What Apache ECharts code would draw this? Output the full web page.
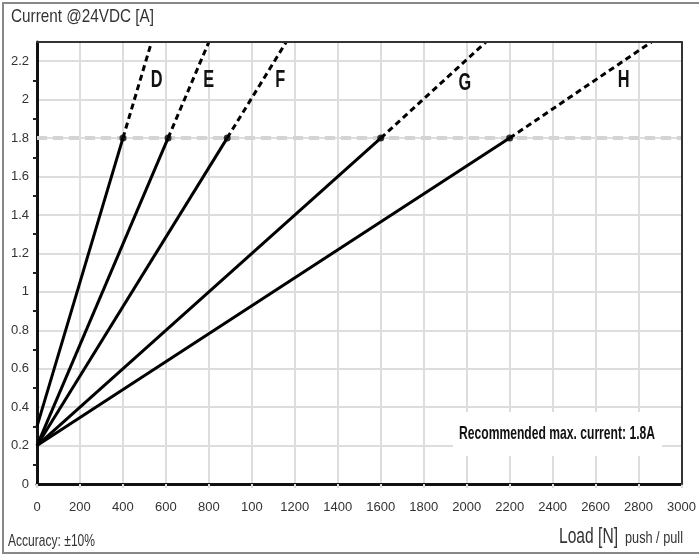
<!DOCTYPE html>
<html>
<head>
<meta charset="utf-8">
<script src="https://cdn.jsdelivr.net/npm/echarts@6/dist/echarts.min.js"></script>
<style>
html,body{margin:0;padding:0;background:#fff;}
#c{width:699px;height:555px;}
</style>
</head>
<body>
<div id="c"></div>
<script>
// ---- data ----
const curveNames = ['D', 'E', 'F', 'G', 'H'];
const startLoad = [0, 0, 0, 0, 0];
const startCurrent = [0.3, 0.2, 0.2, 0.2, 0.2];
const loadAtMax = [400, 610, 885, 1600, 2200];
const maxCurrent = 1.8;
const loadAtTop = [533, 800, 1160, 2090, 2860];
const topCurrent = 2.3;
const labelLoad = [557, 799, 1132, 1991, 2731];
const labelCurrent = [2.1, 2.1, 2.1, 2.085, 2.1];
const xTickLabels = ['0','200','400','600','800','100','1200','1400','1600','1800','2000','2200','2400','2600','2800','3000'];
const yTickLabels = ['0','0.2','0.4','0.6','0.8','1','1.2','1.4','1.6','1.8','2','2.2'];

const FONT = '"Liberation Sans", Arial, sans-serif';

const mctx = document.createElement('canvas').getContext('2d');
function fitX(text, font, target) {
  mctx.font = font;
  const w = mctx.measureText(text).width;
  return w > 0 ? Math.min(1, target / w) : 1;
}
function fittedText(text, font, x, y, target, fill) {
  return {
    type: 'text', z: 101, x: x, y: y,
    scaleX: fitX(text, font, target), originX: 0, originY: 0,
    style: { text: text, font: font, fill: fill || '#333', align: 'left', verticalAlign: 'middle' }
  };
}

const series = [];
series.push({
  type: 'line', data: [[0, maxCurrent], [3000, maxCurrent]],
  symbol: 'none', silent: true, z: 1,
  lineStyle: { color: '#d4d4d4', width: 4, type: [10, 6] }
});
curveNames.forEach((n, i) => {
  series.push({
    type: 'line', name: n + ' solid',
    data: [[startLoad[i], startCurrent[i]], [loadAtMax[i], maxCurrent]],
    symbol: 'none', z: 3,
    lineStyle: { color: '#000', width: 3 }
  });
  series.push({
    type: 'line', name: n + ' dashed',
    data: [[loadAtMax[i], maxCurrent], [loadAtTop[i], topCurrent]],
    symbol: 'none', z: 3,
    lineStyle: { color: '#000', width: 3, type: [6, 4] }
  });
});
series.push({
  type: 'scatter', z: 4,
  data: loadAtMax.map(x => [x, maxCurrent]),
  symbolSize: 7, itemStyle: { color: '#000' }
});
series.push({
  type: 'custom', z: 4,
  data: curveNames.map((n, i) => [labelLoad[i], labelCurrent[i], n]),
  renderItem: (params, api) => {
    const p = api.coord([api.value(0), api.value(1)]);
    return {
      type: 'text', x: p[0], y: p[1], scaleX: 0.68,
      style: {
        text: curveNames[params.dataIndex],
        font: 'bold 24px ' + FONT, fill: '#111',
        align: 'center', verticalAlign: 'middle'
      }
    };
  }
});

const chart = echarts.init(document.getElementById('c'));
chart.setOption({
  animation: false,
  backgroundColor: '#fff',
  grid: { left: 37, right: 14, top: 42, bottom: 71, containLabel: false },
  xAxis: [{
    type: 'value', min: 0, max: 3000, interval: 200,
    axisLine: { show: true, onZero: false, lineStyle: { color: '#111', width: 3 } },
    axisTick: { show: true, length: 4, lineStyle: { color: '#ddd', width: 2 } },
    splitLine: { show: true, lineStyle: { color: '#dddddd', width: 2 } },
    axisLabel: {
      margin: 17, fontFamily: FONT, fontSize: 13, color: '#333',
      formatter: v => xTickLabels[Math.round(v / 200)]
    }
  }, {
    type: 'value', position: 'top', min: 0, max: 3000, z: 5,
    axisLine: { show: true, onZero: false, lineStyle: { color: '#333', width: 2 } },
    axisTick: { show: false }, axisLabel: { show: false }, splitLine: { show: false }
  }],
  yAxis: [{
    type: 'value', min: 0, max: 2.3, interval: 0.2,
    axisLine: { show: true, onZero: false, lineStyle: { color: '#111', width: 3 } },
    axisTick: { show: false },
    minorTick: { show: true, splitNumber: 2, length: 4, lineStyle: { color: '#222', width: 2 } },
    splitLine: { show: true, lineStyle: { color: '#dddddd', width: 2 } },
    axisLabel: {
      margin: 8, fontFamily: FONT, fontSize: 13, color: '#333',
      showMaxLabel: false,
      formatter: v => { const k = Math.round(v / 0.2); return k < yTickLabels.length ? yTickLabels[k] : ''; }
    }
  }, {
    type: 'value', position: 'right', min: 0, max: 2.3, z: 5,
    axisLine: { show: true, onZero: false, lineStyle: { color: '#333', width: 2 } },
    axisTick: { show: false }, axisLabel: { show: false }, splitLine: { show: false }
  }],
  graphic: [
    { type: 'rect', z: 100, shape: { x: 3, y: 3, width: 720, height: 550 }, style: { fill: 'none', stroke: '#888', lineWidth: 2 } },
    fittedText('Current @24VDC [A]', '19px ' + FONT, 11, 17, 143),
    { type: 'rect', z: 100, shape: { x: 453, y: 412, width: 209, height: 44 }, style: { fill: '#fff' } },
    fittedText('Recommended max. current: 1.8A', 'bold 19px ' + FONT, 459, 434, 196, '#111'),
    fittedText('Load [N]', '22px ' + FONT, 559, 537, 59),
    fittedText('push / pull', '16px ' + FONT, 625, 539, 58),
    fittedText('Accuracy: ±10%', '17px ' + FONT, 8, 541, 87)
  ],
  series: series
});
</script>
</body>
</html>
